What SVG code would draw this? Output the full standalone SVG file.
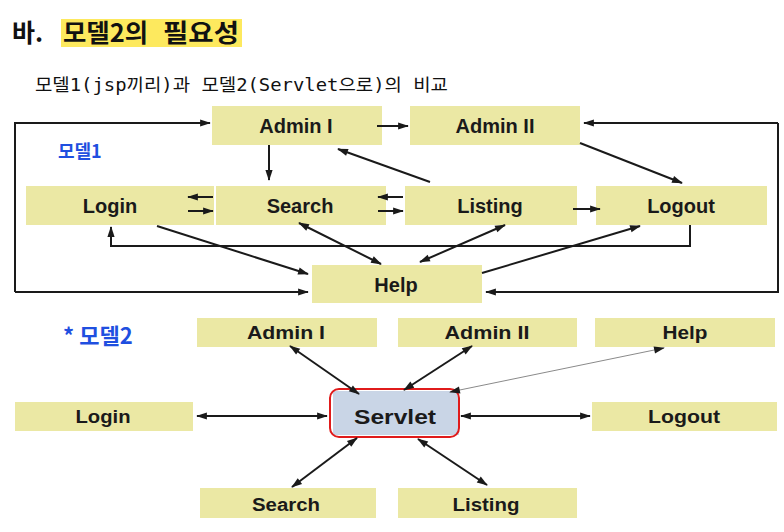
<svg xmlns="http://www.w3.org/2000/svg" width="784" height="532" viewBox="0 0 784 532">
<defs>
<marker id="ah" viewBox="0 0 12 10" refX="11" refY="5" markerWidth="12" markerHeight="9" markerUnits="userSpaceOnUse" orient="auto-start-reverse"><path d="M0,1 L12,5 L0,9 z" fill="#1a1a1a"/></marker>
</defs>
<style>
.box{fill:#ebe8a4}
.t1{font-family:"Liberation Sans",Arial,sans-serif;font-weight:bold;font-size:20px;fill:#1a1a1a;text-anchor:middle}
.t2{font-family:"Liberation Sans",Arial,sans-serif;font-weight:bold;font-size:18px;fill:#1a1a1a;text-anchor:middle}
.c{fill:none;stroke:#1a1a1a;stroke-width:2}
.one{marker-end:url(#ah)}
.two{marker-start:url(#ah);marker-end:url(#ah)}
.hand{font-family:"Noto Sans CJK KR",sans-serif;fill:#1f4fe0}
</style>
<rect width="784" height="532" fill="#ffffff"/>

<g id="title">
<rect x="61" y="19" width="181" height="28" fill="#fde95e"/>
<text x="12" y="42" font-family="'Noto Sans CJK KR',sans-serif" font-weight="bold" font-size="25" fill="#111">바.</text>
<text x="63" y="42" font-family="'Noto Sans CJK KR',sans-serif" font-weight="bold" font-size="25" fill="#111" textLength="85" lengthAdjust="spacingAndGlyphs">모델2의</text>
<text x="163" y="42" font-family="'Noto Sans CJK KR',sans-serif" font-weight="bold" font-size="25" fill="#111" textLength="76" lengthAdjust="spacingAndGlyphs">필요성</text>
<text x="35" y="91" font-family="'DejaVu Sans Mono','Noto Sans CJK KR',monospace" font-size="17.5" fill="#111" textLength="413" lengthAdjust="spacingAndGlyphs">모델1(jsp끼리)과 모델2(Servlet으로)의 비교</text>
</g>

<g id="hand1"><text class="hand" x="58" y="158" font-size="18" font-weight="bold">모델1</text></g>
<g id="hand2"><text class="hand" x="63" y="344" font-size="22" font-weight="bold">* 모델2</text></g>

<!-- Model 1 nodes -->
<g id="m1-admin1"><rect class="box" x="212" y="106" width="170" height="39"/><text class="t1" x="296" y="133">Admin I</text></g>
<g id="m1-admin2"><rect class="box" x="410" y="106" width="170" height="39"/><text class="t1" x="495" y="133">Admin II</text></g>
<g id="m1-login"><rect class="box" x="26" y="186" width="188" height="39"/><text class="t1" x="110" y="213">Login</text></g>
<g id="m1-search"><rect class="box" x="216" y="186" width="170" height="39"/><text class="t1" x="300" y="213">Search</text></g>
<g id="m1-listing"><rect class="box" x="405" y="186" width="172" height="39"/><text class="t1" x="490" y="213">Listing</text></g>
<g id="m1-logout"><rect class="box" x="596" y="186" width="171" height="39"/><text class="t1" x="681" y="213">Logout</text></g>
<g id="m1-help"><rect class="box" x="312" y="265" width="170" height="38"/><text class="t1" x="396" y="292">Help</text></g>

<!-- Model 2 nodes -->
<g id="m2-admin1"><rect class="box" x="197" y="318" width="180" height="29"/><text class="t2" x="286" y="339" textLength="78" lengthAdjust="spacingAndGlyphs">Admin I</text></g>
<g id="m2-admin2"><rect class="box" x="398" y="318" width="179" height="29"/><text class="t2" x="487" y="339" textLength="85" lengthAdjust="spacingAndGlyphs">Admin II</text></g>
<g id="m2-help"><rect class="box" x="595" y="318" width="180" height="29"/><text class="t2" x="685" y="339" textLength="45" lengthAdjust="spacingAndGlyphs">Help</text></g>
<g id="m2-login"><rect class="box" x="15" y="402" width="178" height="29"/><text class="t2" x="103" y="423" textLength="55" lengthAdjust="spacingAndGlyphs">Login</text></g>
<g id="m2-servlet"><rect x="333" y="391" width="126" height="44" fill="#c9d5e6"/><rect x="330" y="389" width="129" height="48" rx="9" fill="none" stroke="#e01b1b" stroke-width="2"/><text class="t1" x="395" y="424" textLength="82" lengthAdjust="spacingAndGlyphs">Servlet</text></g>
<g id="m2-logout"><rect class="box" x="592" y="402" width="185" height="29"/><text class="t2" x="684" y="423" textLength="72" lengthAdjust="spacingAndGlyphs">Logout</text></g>
<g id="m2-search"><rect class="box" x="200" y="488" width="176" height="30"/><text class="t2" x="286" y="511" textLength="68" lengthAdjust="spacingAndGlyphs">Search</text></g>
<g id="m2-listing"><rect class="box" x="398" y="488" width="179" height="30"/><text class="t2" x="486" y="511" textLength="67" lengthAdjust="spacingAndGlyphs">Listing</text></g>

<g id="connectors">
<!-- Model 1 -->
<path class="c one" d="M15,292 L15,123 L210,123"/>
<path class="c one" d="M15,292 L308,292"/>
<path class="c one" d="M778,123 L778,292 L486,292"/>
<path class="c one" d="M778,123 L584,123"/>
<path class="c one" d="M377,126 L408,126"/>
<path class="c one" d="M269,145 L269,180"/>
<path class="c one" d="M430,182 L338,149"/>
<path class="c one" d="M580,143 L682,183"/>
<path class="c one" d="M213,197 L188,197"/>
<path class="c one" d="M188,211 L213,211"/>
<path class="c one" d="M403,197 L378,197"/>
<path class="c one" d="M378,211 L403,211"/>
<path class="c one" d="M573,209 L600,209"/>
<path class="c one" d="M690,225 L690,246 L111,246 L111,227"/>
<path class="c one" d="M157,226 L308,274"/>
<path class="c two" d="M299,223 L381,264"/>
<path class="c two" d="M505,225 L420,262"/>
<path class="c one" d="M482,273 L640,226"/>
<!-- Model 2 -->
<path class="c two" d="M290,346 L359,394"/>
<path class="c two" d="M472,346 L404,390"/>
<path fill="none" stroke="#8a8a8a" stroke-width="1" d="M450,392 L664,348" marker-end="url(#ah)" marker-start="url(#ah)"/>
<path class="c two" d="M197,416 L327,416"/>
<path class="c two" d="M461,416 L590,416"/>
<path class="c two" d="M357,438 L292,487"/>
<path class="c two" d="M418,439 L487,485"/>
</g>
</svg>
